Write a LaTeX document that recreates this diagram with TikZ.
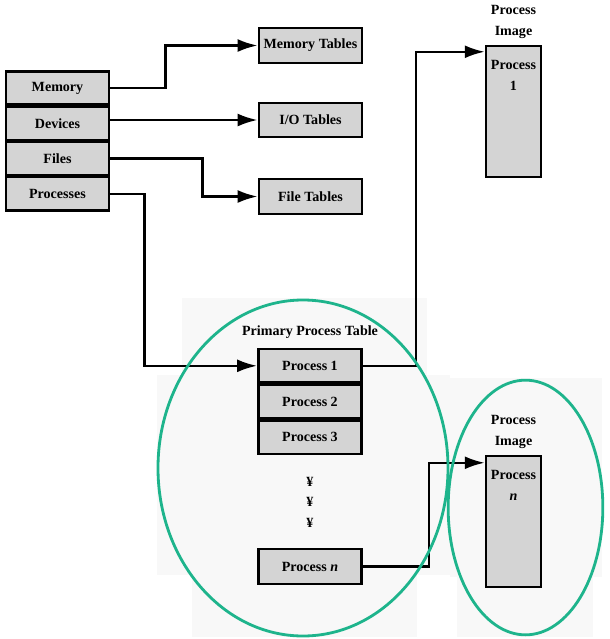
\documentclass[tikz,border=0pt]{standalone}
\usepackage{fontspec}
\setmainfont{Liberation Serif}
\usepackage{tikz}
\usetikzlibrary{positioning,arrows.meta}
\definecolor{boxgray}{RGB}{212,212,212}
\definecolor{ringgreen}{RGB}{30,180,140}
\definecolor{faintgray}{RGB}{248,248,248}
\tikzset{%
  tab box/.style={
    draw,
    line width=2.1pt,
    fill=boxgray,
    minimum width=3.1cm,
    minimum height=1.0cm,
    font=\bfseries\fontsize{12}{18}\selectfont
  },
  image box/.style={
    draw,
    line width=2.1pt,
    fill=boxgray,
    minimum width=1.65cm,
    minimum height=3.93cm
  },
  box label/.style={
    align=center,
    inner sep=0pt,
    font=\bfseries\fontsize{12}{18}\selectfont
  },
  group ring/.style={
    draw=ringgreen,
    line width=2.4pt
  },
}

\begin{document}
\begin{tikzpicture}[> = {Latex[length=17pt,width=11pt]}, x=0.03cm, y=-0.03cm]
\useasboundingbox (0,0) rectangle (609,639);
% faint background patches
\fill[faintgray] (182,298) rectangle (427,375);
\fill[faintgray] (157,375) rectangle (450,575);
\fill[faintgray] (450,378) rectangle (602,577);
\fill[faintgray] (192,575) rectangle (417,637);
\fill[faintgray] (457,577) rectangle (593,637);

% left stack
\foreach \name/\txt [count=\i] in {mem/Memory, dev/Devices, files/Files, proc/Processes}
    \node[tab box] (\name) at (57.5,{88+35.3*(\i-1)}) {\txt};

% tables
\node[tab box, minimum height=1.05cm] (mem_tab) at (310.5,45.5) {Memory Tables};
\node[tab box, minimum height=1.02cm] (io_tab) at (310.5,120) {I/O Tables};
\node[tab box, minimum height=1.05cm] (file_tab) at (310.5,196.5) {File Tables};

% primary process table
\node[box label] (ppt_label) at (310,332) {Primary Process Table};
\foreach \i in {1,2,3}
    \node[tab box, minimum height=1.01cm] (p_\i) at (310,{365.8+35.7*(\i-1)}) {Process \i};
\foreach \i [count=\k] in {482,502,523}
    \node[box label] (dot_\k) at (310,\i) {¥};
\node[tab box, minimum height=1.05cm] (p_n) at (310,566.5) {Process \textit{n}};

% process images
\node[image box] (img_1) at (513.5,111.5) {};
\node[box label, above=5pt of img_1] (img_1_label) {Process\\Image};
\node[box label, below=13pt of img_1.north] (img_1_text) {Process\\1};
\node[image box] (img_n) at (513.5,521.5) {};
\node[box label, above=5pt of img_n] (img_n_label) {Process\\Image};
\node[box label, below=13pt of img_n.north] (img_n_text) {Process\\\textit{n}};

% connectors
\draw[->, line width=2.1pt] (mem.east) -- ++(55,0) |- (mem_tab.west);
\draw[->, line width=2.1pt] (dev.east |- io_tab.west) -- (io_tab.west);
\draw[->, line width=2.1pt] (files.east) -- ++(92,0) |- (file_tab.west);
\draw[->, line width=2.1pt] (proc.east) -- ++(34,0) |- (p_1.west);
\draw[->, line width=2.1pt] (p_1.east) -- ++(53,0) |- ([yshift=-0.21cm]img_1.north west);
\draw[->, line width=2.1pt] (p_n.east) -- ++(66,0) |- ([yshift=-0.24cm]img_n.north west);

% rings
\draw[group ring] (303,468) ellipse [x radius=4.35cm, y radius=5.04cm];
\draw[group ring] (525.5,507.5) ellipse [x radius=2.32cm, y radius=3.82cm];
\end{tikzpicture}
\end{document}
